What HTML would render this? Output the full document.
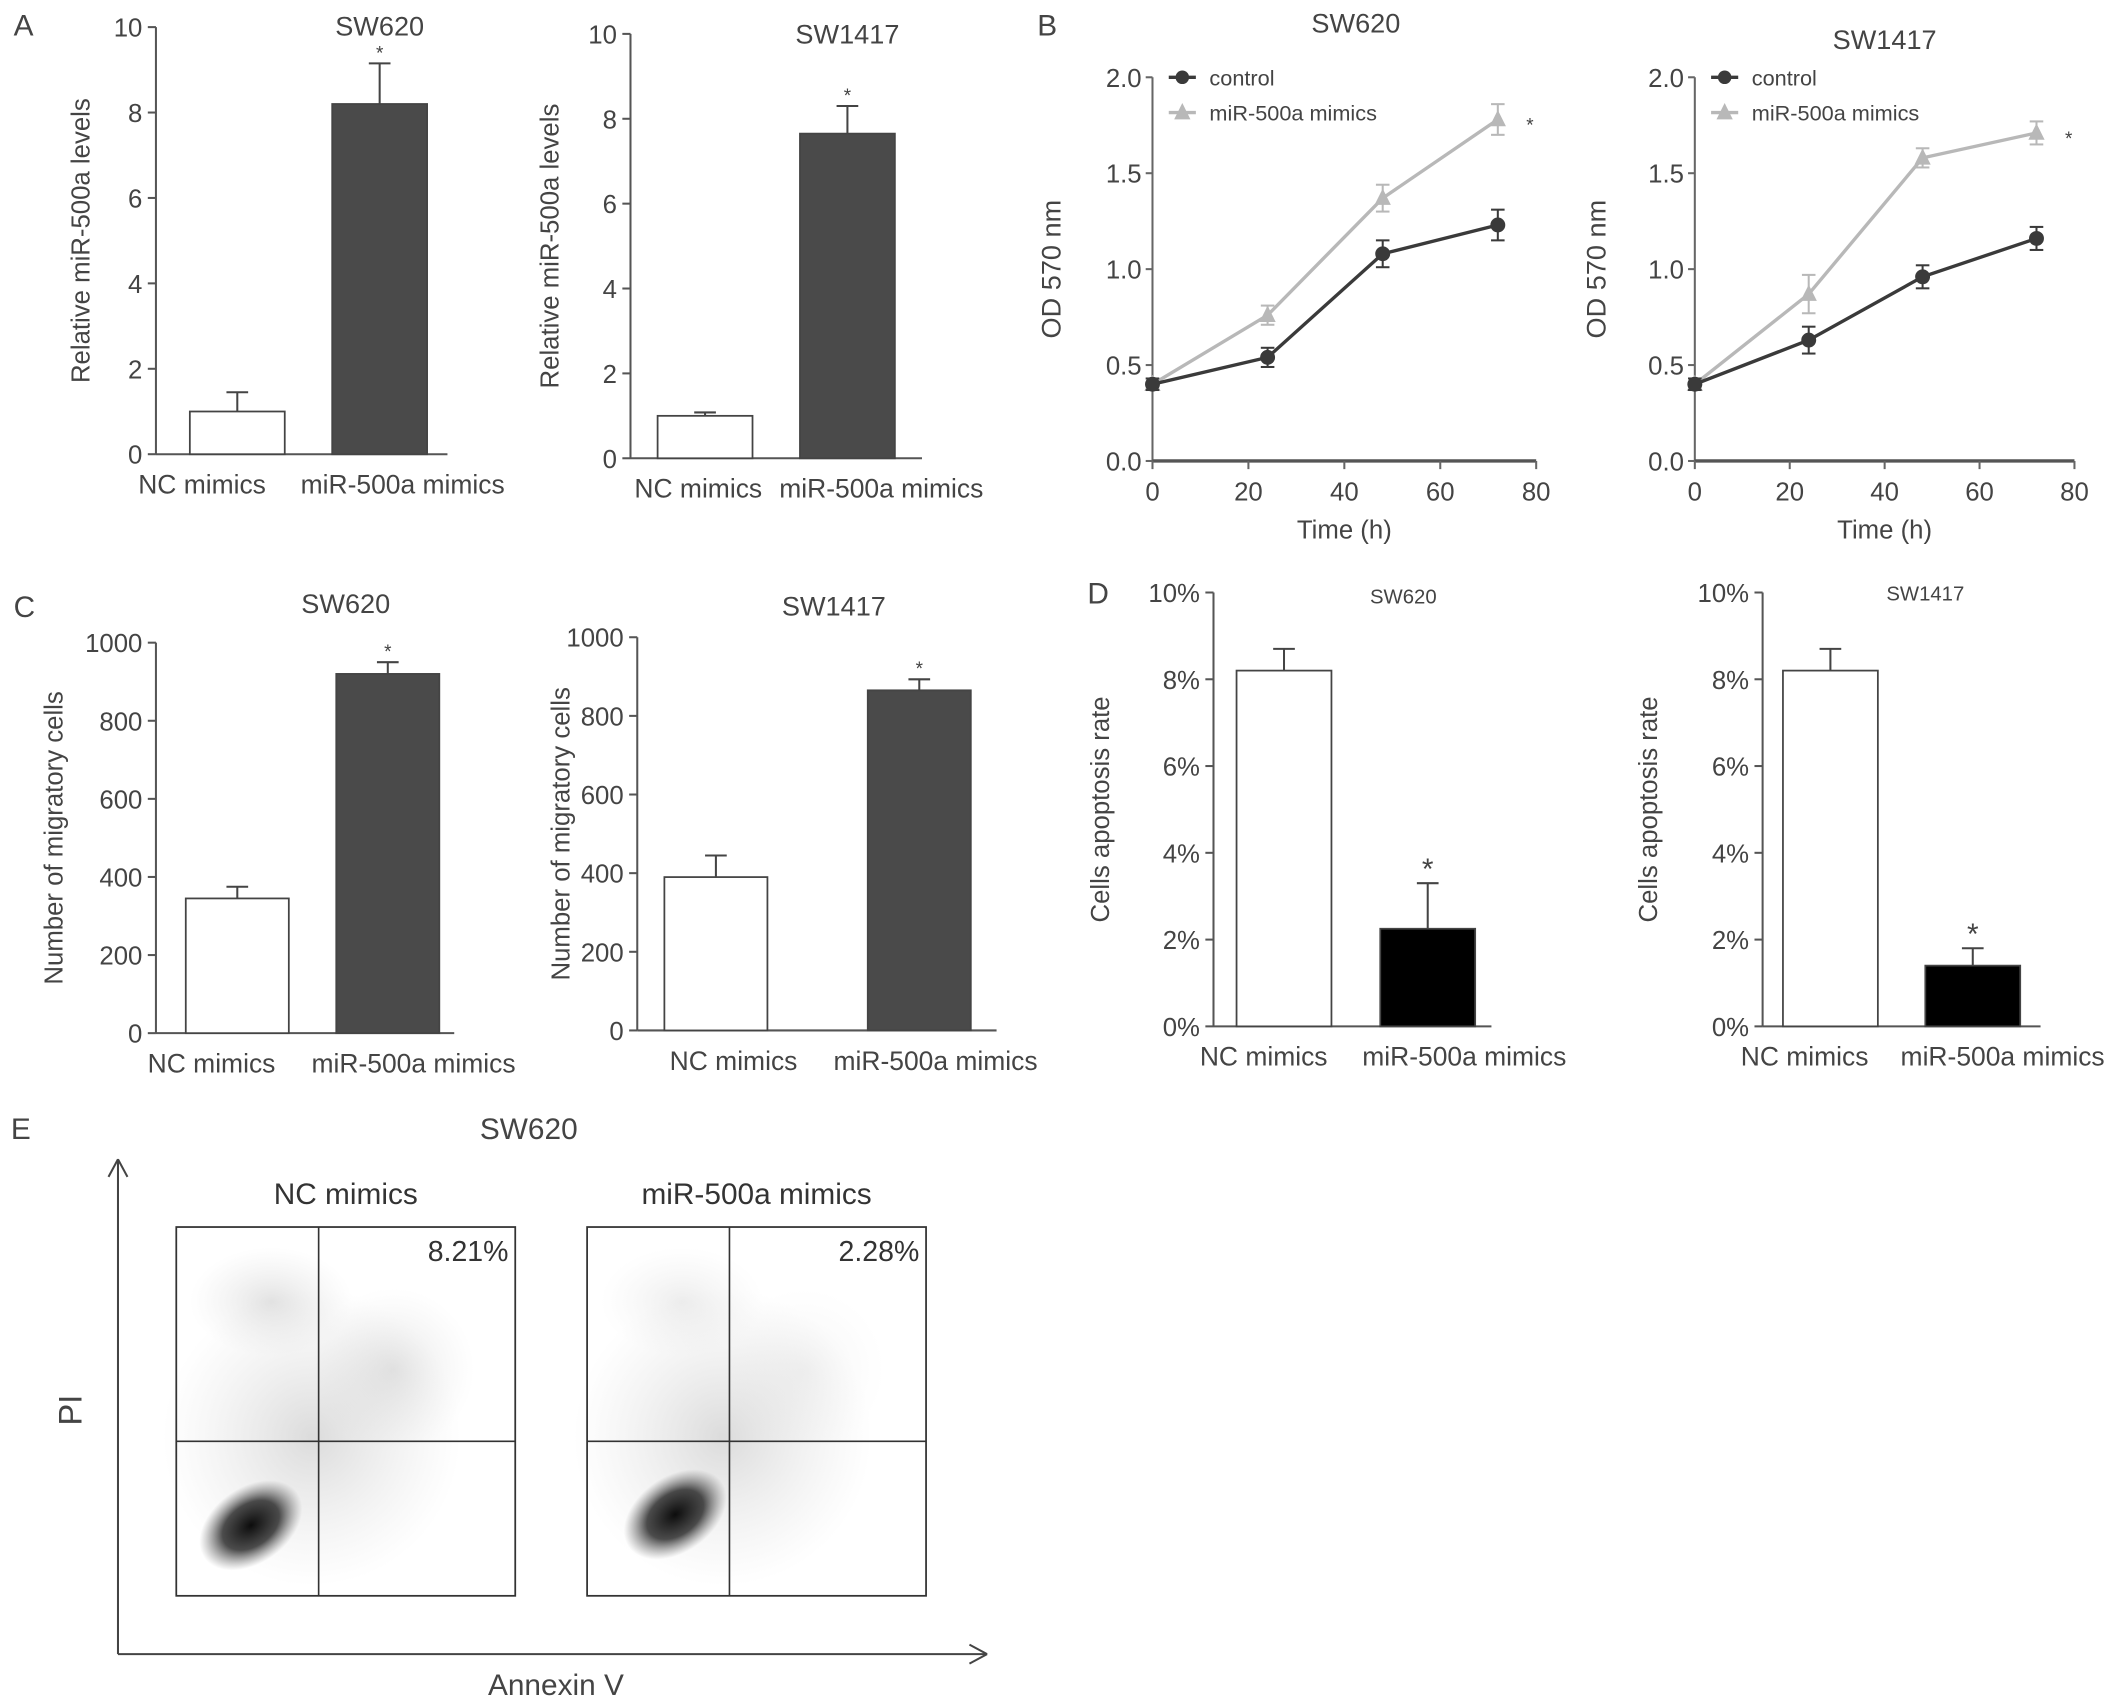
<!DOCTYPE html>
<html><head><meta charset="utf-8"><style>
html,body{margin:0;padding:0;background:#fff}
svg{display:block}
text{font-family:"Liberation Sans",Arial,sans-serif;fill:#444}
</style></head><body>
<svg id="s" width="2126" height="1707" viewBox="0 0 1568 1259" xmlns="http://www.w3.org/2000/svg">
<defs>
<radialGradient id="blob" cx="50%" cy="50%" r="50%"><stop offset="0" stop-color="#000" stop-opacity="0.95"/><stop offset="0.55" stop-color="#111" stop-opacity="0.75"/><stop offset="1" stop-color="#555" stop-opacity="0"/></radialGradient>
<radialGradient id="haze" cx="50%" cy="50%" r="50%"><stop offset="0" stop-color="#999" stop-opacity="0.35"/><stop offset="1" stop-color="#bbb" stop-opacity="0"/></radialGradient>
</defs>
</svg>
<script>
// ---- data ----
const barCats = ["NC mimics","miR-500a mimics"];
const aSW620 = [1.0, 8.2], aSW620Err = [1.45, 9.15];
const aSW1417 = [1.0, 7.65], aSW1417Err = [1.08, 8.3];
const cSW620 = [345, 920], cSW620Err = [375, 950];
const cSW1417 = [390, 865], cSW1417Err = [445, 893];
const dSW620 = [8.2, 2.25], dSW620Err = [8.7, 3.3];
const dSW1417 = [8.2, 1.4], dSW1417Err = [8.7, 1.8];
const timePts = [0, 24, 48, 72];
const b620Ctrl = [0.40, 0.54, 1.08, 1.23], b620CtrlErr = [0.03, 0.05, 0.07, 0.08];
const b620Mim = [0.40, 0.76, 1.37, 1.78], b620MimErr = [0.03, 0.05, 0.07, 0.08];
const b1417Ctrl = [0.40, 0.63, 0.96, 1.16], b1417CtrlErr = [0.03, 0.07, 0.06, 0.06];
const b1417Mim = [0.40, 0.87, 1.58, 1.71], b1417MimErr = [0.03, 0.10, 0.05, 0.06];
const xTicks = [0, 20, 40, 60, 80];
const odTicks = [0.0, 0.5, 1.0, 1.5, 2.0];
const aTicks = [0, 2, 4, 6, 8, 10];
const cTicks = [0, 200, 400, 600, 800, 1000];
const dTicks = [0, 2, 4, 6, 8, 10];
const eValues = ["8.21%", "2.28%"];

const S = document.getElementById('s'), NS = "http://www.w3.org/2000/svg";
function el(tag, at, txt, parent){const e=document.createElementNS(NS,tag);for(const k in at)e.setAttribute(k,at[k]);if(txt!==undefined)e.textContent=txt;(parent||S).appendChild(e);return e;}
function line(x1,y1,x2,y2,c,w){return el('line',{x1,y1,x2,y2,stroke:c||'#555','stroke-width':w||1.5});}

function barPanel(o){
  const g = el('g',{});  
  const y = v => o.y0 - (v - o.min)/(o.max - o.min)*(o.y0 - o.y1);
  const axY = line(o.ax,o.y1,o.ax,o.y0);  
  const axX = line(o.ax,o.y0,o.axEnd,o.y0);  
  o.ticks.forEach(t=>{line(o.ax-6,y(t),o.ax,y(t));
    const tl = el('text',{x:o.ax-10,y:y(t)+7,'text-anchor':'end','font-size':19},o.fmt?o.fmt(t):t);
     });
  o.vals.forEach((v,i)=>{
    const x = o.bx[i];
    const r = el('rect',{x:x,y:y(v),width:o.bw,height:o.y0-y(v),fill:o.fills[i],stroke:'#444','stroke-width':1.3});
     
    const cx = x+o.bw/2;
    line(cx,y(v),cx,y(o.err[i]),'#444',1.5); line(cx-8,y(o.err[i]),cx+8,y(o.err[i]),'#444',1.5);
    const cl = el('text',{x:o.lx[i],y:o.y0+29,'text-anchor':'middle','font-size':19.5},barCats[i]);
     
    if(i==1){const st=el('text',{x:cx,y:y(o.err[i])-3,'text-anchor':'middle','font-size':o.starSize||14},'*');
       }
  });
  const t = el('text',{x:o.tx,y:o.ty,'text-anchor':'middle','font-size':o.tsize||20},o.title);
   
  const yl = el('text',{x:0,y:0,'text-anchor':'middle','font-size':19,transform:`translate(${o.ylx},${(o.y0+o.y1)/2}) rotate(-90)`},o.ylabel);
   
}
function panelLetter(t,x,y){const e=el('text',{x,y,'font-size':22},t);}

panelLetter('A',10,26);
barPanel({name:'chart-a-sw620',ax:115,axEnd:330,y0:335,y1:20,min:0,max:10,ticks:aTicks,vals:aSW620,err:aSW620Err,bx:[140,245],bw:70,lx:[149,297],fills:['#fff','#4a4a4a'],title:'SW620',tx:280,ty:26,ylabel:'Relative miR-500a levels',ylx:66});
barPanel({name:'chart-a-sw1417',ax:465,axEnd:680,y0:338,y1:25,min:0,max:10,ticks:aTicks,vals:aSW1417,err:aSW1417Err,bx:[485,590],bw:70,lx:[515,650],fills:['#fff','#4a4a4a'],title:'SW1417',tx:625,ty:32,ylabel:'Relative miR-500a levels',ylx:412});

panelLetter('C',10,455);
barPanel({name:'chart-c-sw620',ax:115,axEnd:335,y0:762,y1:474,min:0,max:1000,ticks:cTicks,vals:cSW620,err:cSW620Err,bx:[137,248],bw:76,lx:[156,305],fills:['#fff','#4a4a4a'],title:'SW620',tx:255,ty:452,ylabel:'Number of migratory cells',ylx:46});
barPanel({name:'chart-c-sw1417',ax:470,axEnd:735,y0:760,y1:470,min:0,max:1000,ticks:cTicks,vals:cSW1417,err:cSW1417Err,bx:[490,640],bw:76,lx:[541,690],fills:['#fff','#4a4a4a'],title:'SW1417',tx:615,ty:454,ylabel:'Number of migratory cells',ylx:420});

panelLetter('D',802,445);
barPanel({name:'chart-d-sw620',ax:895,axEnd:1100,y0:757,y1:437,min:0,max:10,ticks:dTicks,fmt:t=>t+'%',vals:dSW620,err:dSW620Err,bx:[912,1018],bw:70,lx:[932,1080],fills:['#fff','#000'],title:'SW620',tx:1035,ty:445,tsize:15,ylabel:'Cells apoptosis rate',ylx:818,starSize:22});
barPanel({name:'chart-d-sw1417',ax:1300,axEnd:1505,y0:757,y1:437,min:0,max:10,ticks:dTicks,fmt:t=>t+'%',vals:dSW1417,err:dSW1417Err,bx:[1315,1420],bw:70,lx:[1331,1477],fills:['#fff','#000'],title:'SW1417',tx:1420,ty:443,tsize:15,ylabel:'Cells apoptosis rate',ylx:1222,starSize:22});

// ---- line charts B ----
function linePanel(o){
  const g = el('g',{});  
  const x = v => o.x0 + v/80*(o.x1-o.x0), y = v => o.y0 - v/2*(o.y0-o.y1);
  const ay=line(o.x0,o.y1,o.x0,o.y0,'#666',1.5);  
  const ax=line(o.x0,o.y0,o.x1,o.y0,'#555',2.5);  
  odTicks.forEach(t=>{line(o.x0-5,y(t),o.x0,y(t),'#666');const e=el('text',{x:o.x0-8,y:y(t)+7,'text-anchor':'end','font-size':19},t.toFixed(1));});
  xTicks.forEach(t=>{line(x(t),o.y0,x(t),o.y0+6,'#666');const e=el('text',{x:x(t),y:o.y0+29,'text-anchor':'middle','font-size':19},t);});
  const series=[{v:o.mim,e:o.mimE,c:'#b8b8b8',tri:true,n:'series-mir500a-mimics'},{v:o.ctrl,e:o.ctrlE,c:'#3a3a3a',tri:false,n:'series-control'}];
  series.forEach(s=>{
    const p=el('polyline',{points:timePts.map((t,i)=>x(t)+','+y(s.v[i])).join(' '),fill:'none',stroke:s.c,'stroke-width':2.5});
     
    timePts.forEach((t,i)=>{const cx=x(t),cy=y(s.v[i]),hi=y(s.v[i]+s.e[i]),lo=y(s.v[i]-s.e[i]);
      line(cx,hi,cx,lo,s.c,1.5);line(cx-5,hi,cx+5,hi,s.c,1.5);line(cx-5,lo,cx+5,lo,s.c,1.5);
      const m = s.tri? el('polygon',{points:`${cx},${cy-7} ${cx-6},${cy+5} ${cx+6},${cy+5}`,fill:s.c}) : el('circle',{cx,cy,r:5.5,fill:s.c});
       });
  });
  const st=el('text',{x:x(72)+21,y:y(o.mim[3])+9,'font-size':14},'*');
  const lg=el('g',{});
  line(o.x0+12,o.y1,o.x0+32,o.y1,'#3a3a3a',2.5);el('circle',{cx:o.x0+22,cy:o.y1,r:5,fill:'#3a3a3a'});
  const l1=el('text',{x:o.x0+42,y:o.y1+6,'font-size':16},'control');
  line(o.x0+12,o.y1+26,o.x0+32,o.y1+26,'#b8b8b8',2.5);el('polygon',{points:`${o.x0+22},${o.y1+19} ${o.x0+16},${o.y1+31} ${o.x0+28},${o.y1+31}`,fill:'#b8b8b8'});
  const l2=el('text',{x:o.x0+42,y:o.y1+32,'font-size':16},'miR-500a mimics');
  const t=el('text',{x:o.tx,y:o.ty,'text-anchor':'middle','font-size':20},o.title);
  const xl=el('text',{x:(o.x0+o.x1)/2,y:o.y0+57,'text-anchor':'middle','font-size':19},'Time (h)');
  const yl=el('text',{x:0,y:0,'text-anchor':'middle','font-size':20,transform:`translate(${o.ylx},${(o.y0+o.y1)/2}) rotate(-90)`},'OD 570 nm');
}
panelLetter('B',765,26);
linePanel({name:'chart-b-sw620',x0:850,x1:1133,y0:340,y1:57,ctrl:b620Ctrl,ctrlE:b620CtrlErr,mim:b620Mim,mimE:b620MimErr,title:'SW620',tx:1000,ty:24,ylx:782});
linePanel({name:'chart-b-sw1417',x0:1250,x1:1530,y0:340,y1:57,ctrl:b1417Ctrl,ctrlE:b1417CtrlErr,mim:b1417Mim,mimE:b1417MimErr,title:'SW1417',tx:1390,ty:36,ylx:1184});

// ---- panel E ----
panelLetter('E',8,840);
const eg=el('g',{});
line(87,1220,87,855,'#444',1.5);line(87,855,80,868,'#444',1.5);line(87,855,94,868,'#444',1.5);
line(87,1220,728,1220,'#444',1.5);line(728,1220,715,1213,'#444',1.5);line(728,1220,715,1227,'#444',1.5);
let e1=el('text',{x:390,y:840,'text-anchor':'middle','font-size':22},'SW620');
e1=el('text',{x:60,y:1040,'font-size':24,transform:'rotate(-90 60 1040)','text-anchor':'middle'},'PI');
e1=el('text',{x:410,y:1250,'text-anchor':'middle','font-size':22},'Annexin V');
[["NC mimics",130,235],["miR-500a mimics",433,538]].forEach((d,i)=>{
  const x0=d[1];
  const h=el('text',{x:x0+125,y:888,'text-anchor':'middle','font-size':22,style:'fill:#333'},d[0]);
  el('ellipse',{cx:x0+100,cy:1060,rx:110,ry:110,fill:'url(#haze)'});
  el('ellipse',{cx:x0+70,cy:960,rx:60,ry:40,fill:'url(#haze)',opacity:i?0.5:0.8});
  el('ellipse',{cx:x0+160,cy:1010,rx:60,ry:60,fill:'url(#haze)',opacity:i?0.3:0.7});
  el('ellipse',{cx:x0+55+i*10,cy:1125-i*8,rx:42,ry:28,fill:'url(#blob)',transform:`rotate(-35 ${x0+55+i*10} ${1125-i*8})`});
  const r=el('rect',{x:x0,y:905,width:250,height:272,fill:'none',stroke:'#333','stroke-width':1.3});
  line(d[2],905,d[2],1177,'#333',1.2);line(x0,1063,x0+250,1063,'#333',1.2);
  const v=el('text',{x:x0+245,y:930,'text-anchor':'end','font-size':21,style:'fill:#333'},eValues[i]);
});
</script>
</body></html>
